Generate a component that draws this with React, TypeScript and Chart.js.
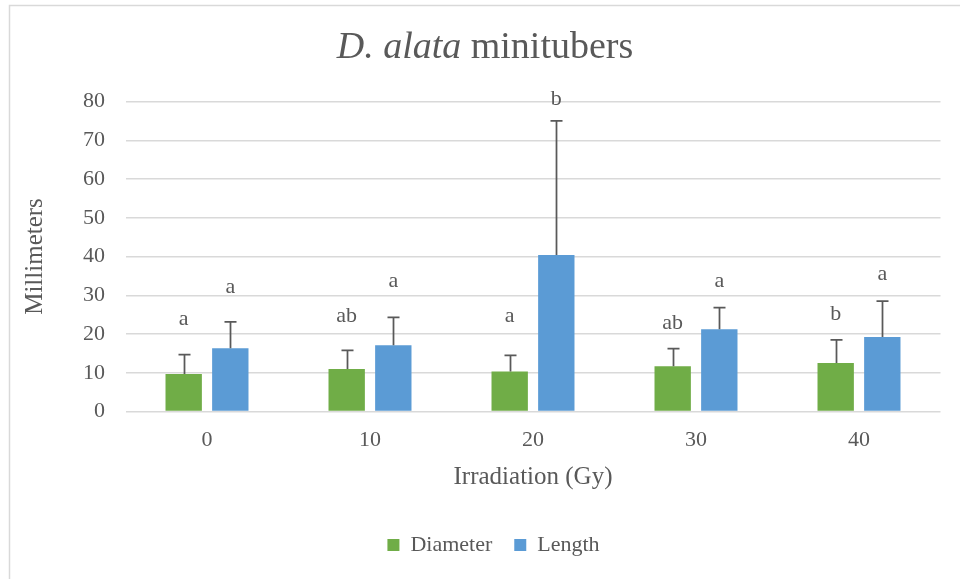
import React, { useEffect, useRef } from "react";
import { Chart, registerables } from "chart.js";

Chart.register(...registerables);

// ---- data ----
const categories = ["0", "10", "20", "30", "40"];
const diameter = [9.7, 11.0, 10.3, 11.7, 12.5];
const diameterErr = [5.0, 4.8, 4.2, 4.5, 6.0];
const lengthVals = [16.3, 17.1, 40.4, 21.2, 19.2];
const lengthErr = [6.8, 7.2, 34.6, 5.6, 9.3];
const diameterLetters = ["a", "ab", "a", "ab", "b"];
const lengthLetters = ["a", "a", "b", "a", "a"];
const diameterLetterAt = [23.8, 24.6, 24.6, 22.9, 25.1];
const lengthLetterAt = [32.2, 33.5, 80.6, 33.5, 35.5];
const yMin = 0;
const yMax = 80;
const yStep = 10;

const FONT = '"Liberation Serif", "Times New Roman", serif';
const TEXT = "#595959";
const GRID = "#d9d9d9";
const GREEN = "#70AD47";
const BLUE = "#5B9BD5";

const errors = [diameterErr, lengthErr];
const letters = [diameterLetters, lengthLetters];
const letterAt = [diameterLetterAt, lengthLetterAt];

const decorPlugin = {
  id: "decor",
  beforeDraw(chart: any) {
    const ctx = chart.ctx;
    ctx.save();
    ctx.fillStyle = "#ffffff";
    ctx.fillRect(0, 0, chart.width, chart.height);
    ctx.strokeStyle = GRID;
    ctx.lineWidth = 1.5;
    ctx.beginPath();
    ctx.moveTo(9.5, chart.height);
    ctx.lineTo(9.5, 5.5);
    ctx.lineTo(chart.width, 5.5);
    ctx.stroke();
    // title with mixed styles
    const italic = "D. alata";
    const regular = " minitubers";
    const size = 38;
    ctx.fillStyle = TEXT;
    ctx.textBaseline = "alphabetic";
    ctx.font = `italic ${size}px ${FONT}`;
    const w1 = ctx.measureText(italic).width;
    ctx.font = `${size}px ${FONT}`;
    const w2 = ctx.measureText(regular).width;
    const x0 = 485 - (w1 + w2) / 2;
    ctx.textAlign = "left";
    ctx.font = `italic ${size}px ${FONT}`;
    ctx.fillText(italic, x0, 58);
    ctx.font = `${size}px ${FONT}`;
    ctx.fillText(regular, x0 + w1, 58);
    ctx.restore();
  },
  afterDatasetsDraw(chart: any) {
    const ctx = chart.ctx;
    const yScale = chart.scales.y;
    ctx.save();
    chart.data.datasets.forEach((ds: any, di: number) => {
      const meta = chart.getDatasetMeta(di);
      meta.data.forEach((bar: any, i: number) => {
        const v = ds.data[i];
        const top = yScale.getPixelForValue(v + errors[di][i]);
        const x = Math.round(bar.x) + 0.5;
        ctx.strokeStyle = TEXT;
        ctx.lineWidth = 1.75;
        ctx.beginPath();
        ctx.moveTo(x, bar.y);
        ctx.lineTo(x, top);
        ctx.moveTo(x - 6, top);
        ctx.lineTo(x + 6, top);
        ctx.stroke();
        ctx.fillStyle = TEXT;
        ctx.font = `22px ${FONT}`;
        ctx.textAlign = "center";
        ctx.textBaseline = "middle";
        ctx.fillText(letters[di][i], bar.x, yScale.getPixelForValue(letterAt[di][i]));
      });
    });
    ctx.restore();
  },
};

export default function App() {
  const ref = useRef<HTMLCanvasElement | null>(null);
  useEffect(() => {
    if (!ref.current) return;
    const chart = new Chart(ref.current, {
      type: "bar",
      data: {
        labels: categories,
        datasets: [
          {
            label: "Diameter",
            data: diameter,
            backgroundColor: GREEN,
            borderWidth: 0,
            categoryPercentage: 0.572,
            barPercentage: 0.78,
          },
          {
            label: "Length",
            data: lengthVals,
            backgroundColor: BLUE,
            borderWidth: 0,
            categoryPercentage: 0.572,
            barPercentage: 0.78,
          },
        ],
      },
      options: {
        animation: false,
        responsive: false,
        devicePixelRatio: 1,
        layout: { padding: { top: 101.5, left: 46.5, right: 19.5, bottom: 13 } },
        plugins: {
          title: { display: false },
          tooltip: { enabled: false },
          legend: {
            position: "bottom",
            labels: {
              boxWidth: 12,
              boxHeight: 12,
              padding: 22,
              color: TEXT,
              font: { family: FONT, size: 22 },
            },
          },
        },
        scales: {
          x: {
            grid: { display: false, drawTicks: false },
            border: { display: false },
            ticks: { color: TEXT, font: { family: FONT, size: 22 }, padding: 15.5 },
            title: {
              display: true,
              text: "Irradiation (Gy)",
              color: TEXT,
              font: { family: FONT, size: 25 },
              padding: { top: 0, bottom: 20 },
            },
            afterFit: (s: any) => {
              s.height = 100.5;
            },
          },
          y: {
            min: yMin,
            max: yMax,
            grid: { color: GRID, lineWidth: 1.5, drawTicks: false },
            border: { display: false },
            ticks: {
              stepSize: yStep,
              color: TEXT,
              font: { family: FONT, size: 22 },
              padding: 20.5,
            },
            title: {
              display: true,
              text: "Millimeters",
              color: TEXT,
              font: { family: FONT, size: 25 },
              padding: { top: -26.5, bottom: 0 },
            },
            afterFit: (s: any) => {
              s.width = 79;
            },
          },
        },
      },
      plugins: [decorPlugin],
    });
    return () => chart.destroy();
  }, []);
  return (
    <div style={{ position: "fixed", left: 0, top: 0, width: 960, height: 579 }}>
      <canvas ref={ref} width={960} height={579} style={{ width: 960, height: 579 }} />
    </div>
  );
}
